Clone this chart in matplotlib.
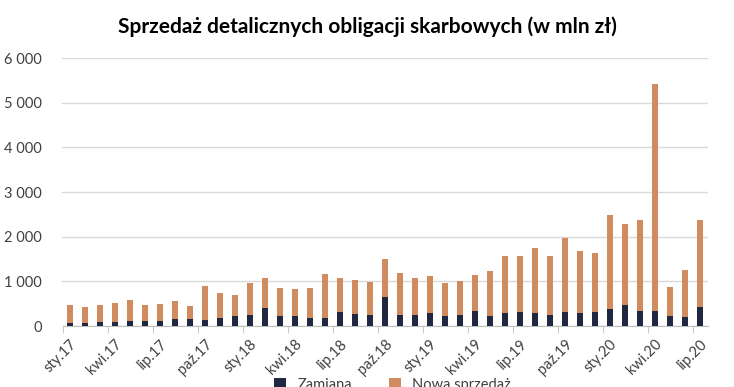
import numpy as np
import matplotlib
matplotlib.use('Agg')
from matplotlib import pyplot as plt
from matplotlib.ticker import FuncFormatter, FixedLocator

plt.rcParams['font.family'] = ['Lato', 'DejaVu Sans']

# Monthly labels, Jan 2017 - Jul 2020
MONTHS = ['sty', 'lut', 'mar', 'kwi', 'maj', 'cze', 'lip', 'sie', 'wrz', 'paź', 'lis', 'gru']
months = [f'{m}.{y}' for y in (17, 18, 19) for m in MONTHS] + [f'{m}.20' for m in MONTHS[:7]]

# Zamiana (exchange) – bottom part of the stack
zamiana = [68, 68, 90, 90, 113, 113, 113, 158, 158, 135, 180, 226,
           248, 406, 226, 224, 185, 185, 311, 267, 244, 644, 244, 244,
           289, 222, 244, 333, 222, 290, 312, 291, 246, 313, 291, 313,
           380, 469, 335, 335, 224, 201, 425]

# Total sales (zamiana + nowa sprzedaż)
total = [474, 429, 474, 519, 586, 474, 496, 564, 451, 902, 744, 699,
         970, 1083, 857, 830, 844, 1156, 1067, 1022, 978, 1489, 1178, 1067,
         1111, 956, 1000, 1133, 1222, 1560, 1562, 1744, 1565, 1967, 1677, 1632,
         2481, 2280, 2370, 5410, 872, 1252, 2370]

nowa = [t - z for t, z in zip(total, zamiana)]

NAVY = '#1f2840'
ORANGE = '#d08c5e'
GRID = '#d9d9d9'

fig = plt.figure(figsize=(7.34, 3.87), dpi=100)
ax = fig.add_axes([62.5 / 734, 1 - 326 / 387, 645 / 734, 268 / 387])

x = np.arange(len(months))
ax.bar(x, zamiana, width=0.42, color=NAVY, label='Zamiana', zorder=3)
ax.bar(x, nowa, width=0.42, bottom=zamiana, color=ORANGE, label='Nowa sprzedaż', zorder=3)

ax.set_xlim(-0.5, len(months) - 0.5)
ax.set_ylim(0, 6000)
ax.set_yticks(np.arange(0, 6001, 1000))
ax.yaxis.set_major_formatter(FuncFormatter(lambda v, p: f'{int(v):,}'.replace(',', ' ')))
ax.grid(axis='y', color=GRID, linewidth=1, zorder=0)

# labels every 3rd month, tick marks on category boundaries
ax.set_xticks(x[::3])
ax.set_xticklabels(months[::3], rotation=45, ha='right', rotation_mode='anchor')
ax.tick_params(axis='x', length=0, pad=8, labelsize=10.5, colors='#404040')
ax.xaxis.set_minor_locator(FixedLocator(np.arange(-0.5, len(months), 3)))
ax.tick_params(axis='x', which='minor', length=5, color='#bfbfbf')
ax.tick_params(axis='y', length=0, pad=15, labelsize=10.5, colors='#404040')

for side in ('top', 'right', 'left'):
    ax.spines[side].set_visible(False)
ax.spines['bottom'].set_color('#bfbfbf')

fig.text(0.5, 1 - 27 / 387, 'Sprzedaż detalicznych obligacji skarbowych (w mln zł)',
         ha='center', va='center', fontsize=15, fontweight='bold', color='black')

fig.legend(loc='upper center', bbox_to_anchor=(0.535, 0.058), ncol=2, frameon=False,
           fontsize=10.5, handlelength=0.8, handleheight=0.8, columnspacing=2.5,
           labelcolor='#404040')

fig.savefig('out.png', dpi=100)
